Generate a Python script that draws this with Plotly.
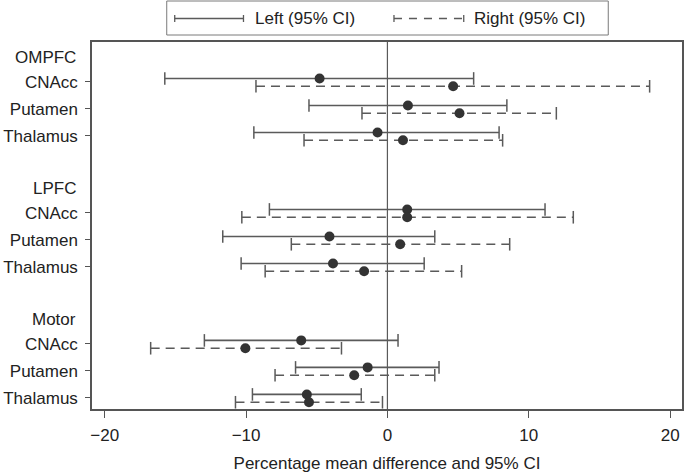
import plotly.graph_objects as go

# ---- data ----
groups = ["OMPFC", "LPFC", "Motor"]
regions = ["CNAcc", "Putamen", "Thalamus"]
left_mean = [-4.8, 1.45, -0.7, 1.4, -4.1, -3.85, -6.1, -1.4, -5.7]
left_lo = [-15.75, -5.55, -9.45, -8.35, -11.65, -10.35, -12.95, -6.5, -9.55]
left_hi = [6.1, 8.45, 7.9, 11.15, 3.35, 2.6, 0.75, 3.65, -1.85]
right_mean = [4.65, 5.1, 1.1, 1.4, 0.9, -1.65, -10.05, -2.35, -5.55]
right_lo = [-9.3, -1.8, -5.9, -10.3, -6.8, -8.65, -16.75, -7.95, -10.75]
right_hi = [18.55, 11.95, 8.15, 13.15, 8.65, 5.25, -3.25, 3.35, -0.35]
x_ticks = [-20, -10, 0, 10, 20]
x_title = "Percentage mean difference and 95% CI"
legend_labels = ["Left (95% CI)", "Right (95% CI)"]

# ---- layout constants ----
W, H = 685, 473
ML, MR, MT, MB = 92, 1, 42, 64
GROUP_STEP = 4.85
OFF_L, OFF_R = -0.13, 0.16
LINE_C = "#5a5a5a"
DOT_C = "#333333"
FONT = "Liberation Sans, Arial, sans-serif"
DASH = "9px,6px"

rows = []
for g in range(len(groups)):
    for i in range(len(regions)):
        rows.append(g * GROUP_STEP + i)
header_y = [g * GROUP_STEP - 0.9 for g in range(len(groups))]
row_labels = regions * len(groups)

fig = go.Figure()


def add_ci(lo, hi, mean, off, dash):
    xs, ys = [], []
    for a, b, y in zip(lo, hi, rows):
        xs += [a, b, None]
        ys += [y + off, y + off, None]
    fig.add_trace(go.Scatter(x=xs, y=ys, mode="lines",
                             line=dict(color=LINE_C, width=1.6, dash=dash),
                             showlegend=False, hoverinfo="skip"))
    cx, cy = [], []
    for a, b, y in zip(lo, hi, rows):
        cx += [a, b]
        cy += [y + off, y + off]
    fig.add_trace(go.Scatter(x=cx, y=cy, mode="markers",
                             marker=dict(symbol="line-ns", size=9,
                                         line=dict(color=LINE_C, width=1.5)),
                             showlegend=False, hoverinfo="skip"))
    fig.add_trace(go.Scatter(x=mean, y=[y + off for y in rows], mode="markers",
                             marker=dict(symbol="circle", size=10, color=DOT_C),
                             showlegend=False))


add_ci(left_lo, left_hi, left_mean, OFF_L, "solid")
add_ci(right_lo, right_hi, right_mean, OFF_R, DASH)

pw = W - ML - MR
ph = H - MT - MB


def px(p):
    return (p - ML) / pw


def py(p):
    return 1 - (p - MT) / ph


LEG_Y = 18.5
CAP = 3.5
shapes = [
    dict(type="line", xref="x", yref="paper", x0=0, x1=0, y0=0, y1=1,
         line=dict(color=LINE_C, width=1.2), layer="below"),
    # legend box
    dict(type="rect", xref="paper", yref="paper", x0=px(167), x1=px(610),
         y0=py(35), y1=py(1), line=dict(color="#7a7a7a", width=1)),
    # legend solid
    dict(type="line", xref="paper", yref="paper", x0=px(175), x1=px(244),
         y0=py(LEG_Y), y1=py(LEG_Y), line=dict(color=LINE_C, width=1.3)),
    dict(type="line", xref="paper", yref="paper", x0=px(175), x1=px(175),
         y0=py(LEG_Y - CAP), y1=py(LEG_Y + CAP), line=dict(color=LINE_C, width=1.3)),
    dict(type="line", xref="paper", yref="paper", x0=px(244), x1=px(244),
         y0=py(LEG_Y - CAP), y1=py(LEG_Y + CAP), line=dict(color=LINE_C, width=1.3)),
    # legend dashed
    dict(type="line", xref="paper", yref="paper", x0=px(395), x1=px(465),
         y0=py(LEG_Y), y1=py(LEG_Y), line=dict(color=LINE_C, width=1.3, dash="8px,7px")),
    dict(type="line", xref="paper", yref="paper", x0=px(395), x1=px(395),
         y0=py(LEG_Y - CAP), y1=py(LEG_Y + CAP), line=dict(color=LINE_C, width=1.3)),
    dict(type="line", xref="paper", yref="paper", x0=px(465), x1=px(465),
         y0=py(LEG_Y - CAP), y1=py(LEG_Y + CAP), line=dict(color=LINE_C, width=1.3)),
]

annotations = [
    dict(text=legend_labels[0], xref="paper", yref="paper", x=px(254), y=py(LEG_Y),
         xanchor="left", yanchor="middle", showarrow=False,
         font=dict(family=FONT, size=17, color="#222")),
    dict(text=legend_labels[1], xref="paper", yref="paper", x=px(473), y=py(LEG_Y),
         xanchor="left", yanchor="middle", showarrow=False,
         font=dict(family=FONT, size=17, color="#222")),
]
for name, y in zip(groups, header_y):
    annotations.append(dict(text=name, xref="paper", yref="y", x=0, y=y,
                            xanchor="right", yanchor="middle", xshift=-14,
                            showarrow=False,
                            font=dict(family=FONT, size=17, color="#222")))

fig.update_layout(
    width=W, height=H,
    margin=dict(l=ML, r=MR, t=MT, b=MB),
    paper_bgcolor="white", plot_bgcolor="white",
    showlegend=False,
    shapes=shapes, annotations=annotations,
    font=dict(family=FONT, size=17, color="#222"),
)
fig.update_xaxes(range=[-20.9, 20.84], tickvals=x_ticks, ticks="outside", ticklen=7,
                 tickwidth=1.3, tickcolor="#555", showgrid=False, zeroline=False,
                 showline=True, linecolor="#555", linewidth=1.5, mirror=True,
                 ticklabelstandoff=3,
                 title=dict(text=x_title, font=dict(size=17), standoff=15),
                 tickfont=dict(size=17))
fig.update_yaxes(range=[12.11, -1.48], tickvals=rows, ticktext=row_labels,
                 ticks="outside", ticklen=5, tickwidth=1.3, tickcolor="#555",
                 showgrid=False, zeroline=False, showline=True, linecolor="#555",
                 linewidth=1.5, mirror=True, ticklabelstandoff=4,
                 tickfont=dict(size=17))

fig.write_html("out.html",
               config={"displayModeBar": False},
               post_script="document.body.style.margin='0';document.body.style.overflow='hidden';")
